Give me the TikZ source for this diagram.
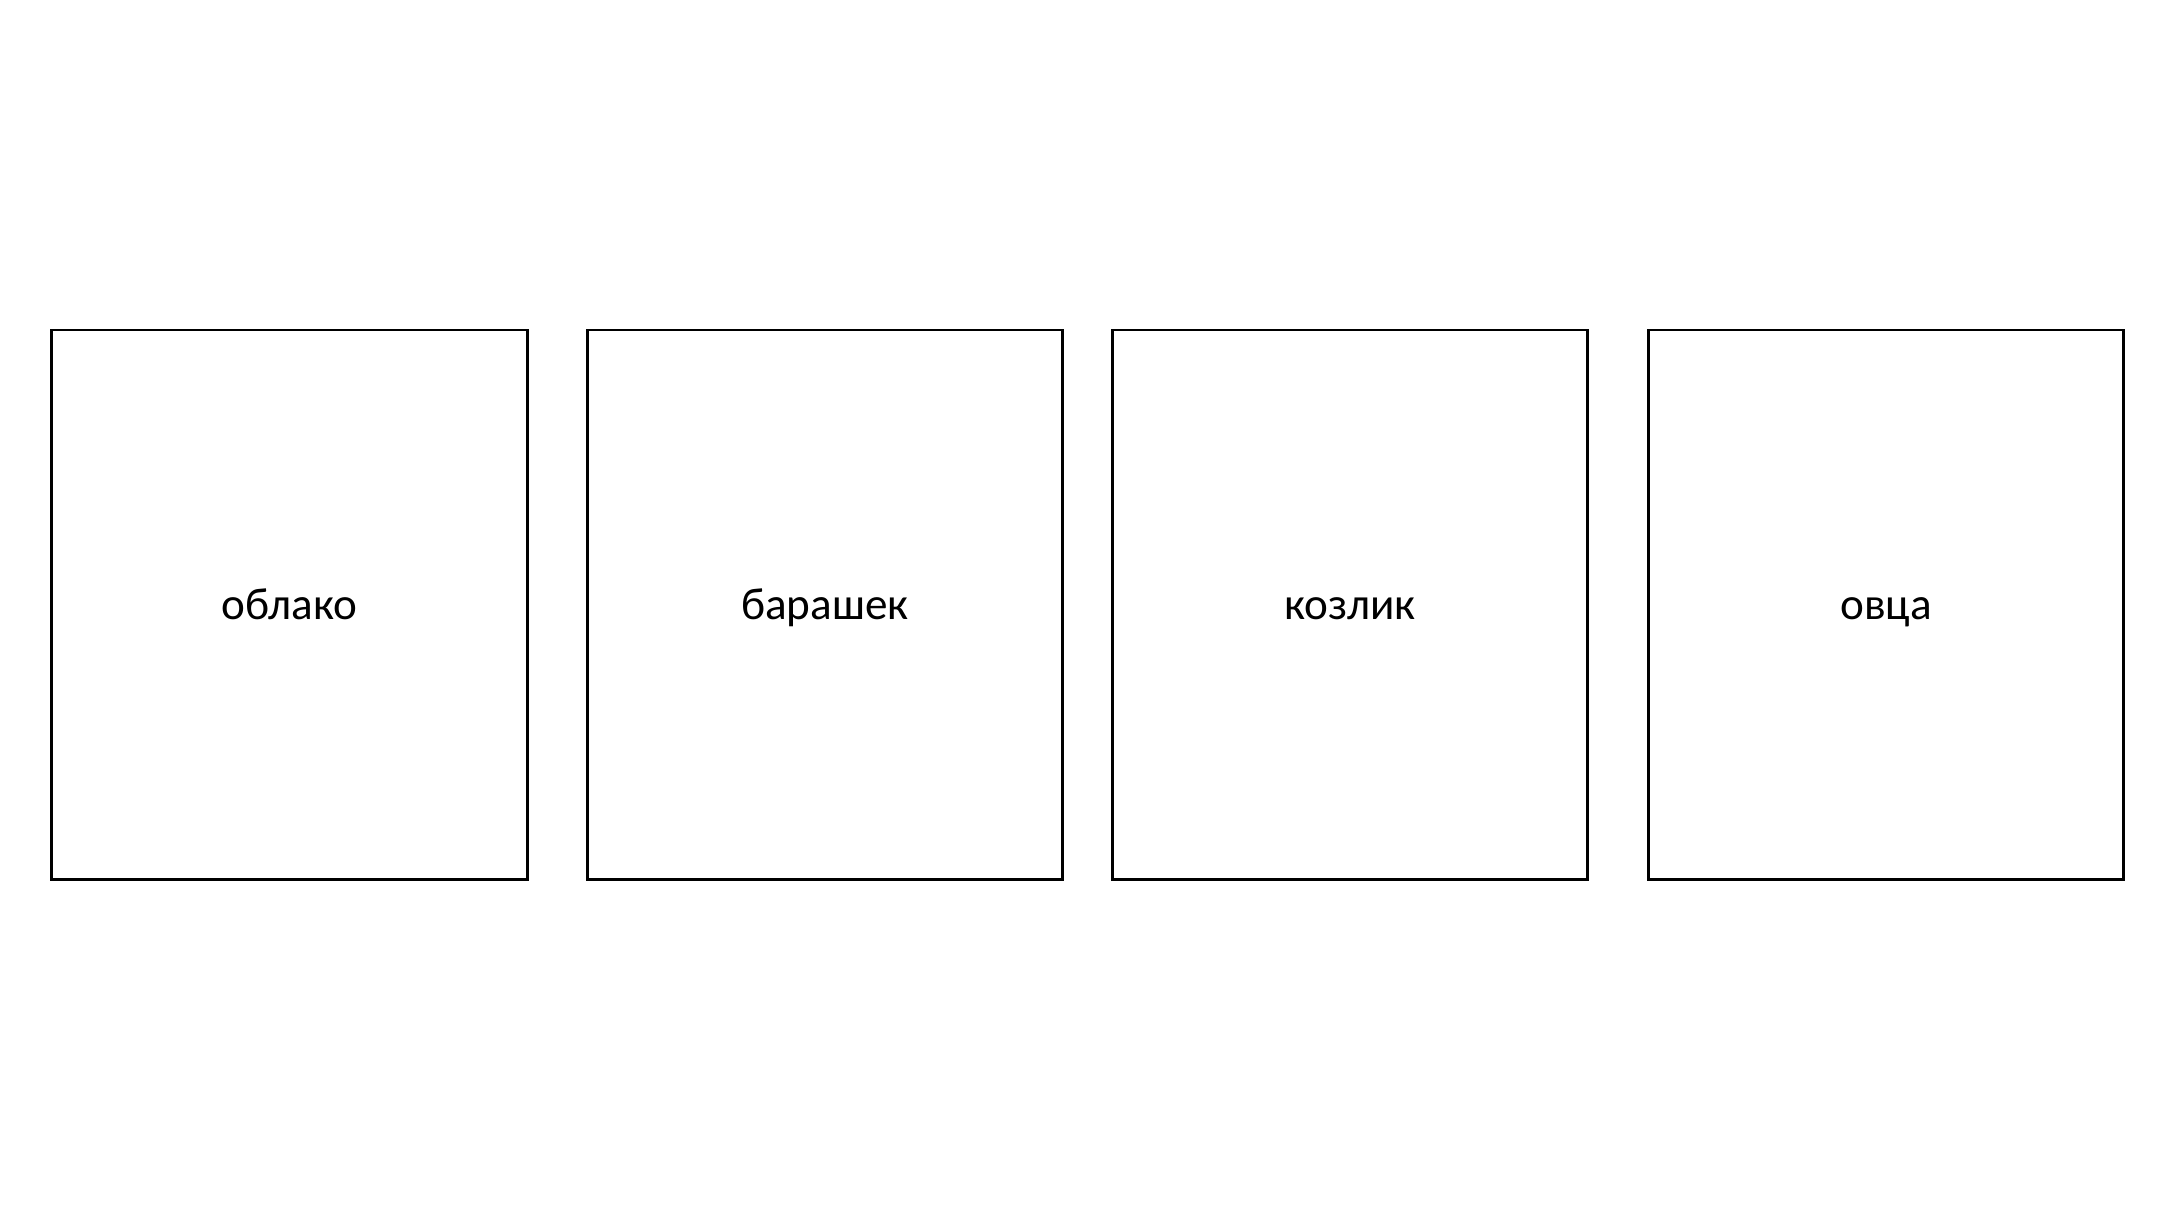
\documentclass[tikz,border=0pt]{standalone}
\usepackage{fontspec}
\setmainfont{Carlito}
\usepackage{tikz}
\usetikzlibrary{positioning}

\begin{document}
\begin{tikzpicture}[
    node distance=0.6cm,
    word_box/.style={rectangle, draw, line width=0.85pt, minimum width=4.755cm, minimum height=5.495cm, inner sep=0pt, outer sep=0pt, text height=9.6pt, text depth=1.2pt, align=center, font=\fontsize{12.85}{15}\selectfont}
]
\useasboundingbox (0,0) rectangle (21.74,12.2);
\node (cloud) [word_box] at (2.8925,6.1525) {облако};
\node (lamb) [word_box, right=0.6cm of cloud] {барашек};
\node (kid) [word_box, right=0.497cm of lamb] {козлик};
\node (sheep) [word_box, right=0.605cm of kid] {овца};
\end{tikzpicture}
\end{document}
